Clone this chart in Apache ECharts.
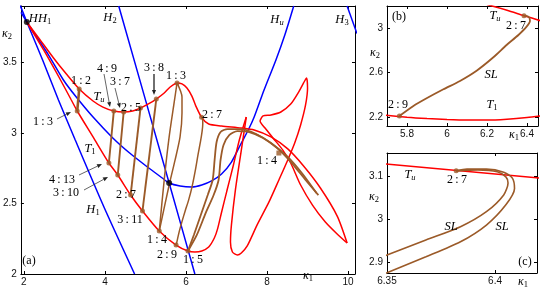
<!DOCTYPE html>
<html><head><meta charset="utf-8">
<script src="https://cdn.jsdelivr.net/npm/echarts@6/dist/echarts.min.js"></script>
<style>html,body{margin:0;padding:0;background:#fff}#c{width:541px;height:288px}</style>
</head><body><div id="c"></div>
<script>
// ---------- tick labels ----------
const xTicksA = [2, 4, 6, 8, 10];
const yTicksA = [2, 2.5, 3, 3.5];
const xTicksB = [5.8, 6, 6.2, 6.4];
const yTicksB = [2.2, 2.6, 3];
const xTicksC = [6.35, 6.4];
const yTicksC = [2.9, 3, 3.1];

// ---------- panel (a): Hopf curves ----------
const H1 = [[1.91,3.905],[2.073,3.787],[2.463,3.518],[2.854,3.234],[3.268,2.950],[3.976,2.475],[4.732,2.0]];
const Hu = [[1.93,3.855],[2.073,3.787],[2.610,3.553],[2.976,3.376],[3.293,3.255],[3.707,3.113],[4.195,2.965],[4.610,2.858],[5.049,2.759],[5.415,2.681],[5.585,2.645],[5.854,2.624],[6.146,2.617],[6.390,2.631],[6.634,2.660],[6.878,2.709],[7.122,2.794],[7.341,2.915],[7.537,3.021],[7.683,3.113],[7.927,3.305],[8.220,3.518],[8.439,3.695],[8.659,3.901]];
const H2 = [[4.341,3.901],[5.585,2.645],[6.220,2.0]];
const H3 = [[9.976,3.901],[10.22,3.705]];

// ---------- panel (a): torus curves ----------
const Tu = [[2.073,3.787],[2.366,3.674],[2.732,3.532],[3.049,3.418],[3.366,3.312],[3.707,3.227],[3.951,3.184],[4.220,3.156],[4.463,3.149],[4.683,3.156],[4.878,3.177],[5.073,3.206],[5.268,3.241],[5.463,3.284],[5.610,3.326],[5.780,3.355],[5.902,3.348],[6.024,3.319],[6.146,3.262],[6.244,3.191],[6.385,3.111],[6.561,3.064],[6.878,3.050],[7.366,3.035],[7.683,3.021],[8.098,2.972],[8.512,2.887],[8.902,2.766],[9.317,2.610],[9.732,2.411],[9.976,2.220]];
const Tloop = [[9.976,2.220],[9.756,2.277],[9.439,2.369],[9.122,2.489],[8.829,2.631],[8.585,2.787],[8.390,2.879],[8.146,2.965],[7.951,3.035],[7.829,3.085],[7.902,3.121],[8.098,3.128],[8.341,3.149],[8.585,3.205],[8.780,3.290],[8.902,3.355],[8.976,3.390],[9.000,3.319],[8.951,3.199],[8.829,3.057],[8.683,2.929],[8.512,2.809],[8.293,2.667],[8.049,2.511],[7.756,2.348],[7.512,2.199],[7.366,2.149],[7.268,2.135],[7.146,2.156],[7.098,2.227],[7.122,2.348],[7.220,2.596],[7.366,2.879],[7.488,3.113]];
const T1 = [[2.073,3.787],[2.488,3.589],[2.878,3.390],[3.171,3.234],[3.317,3.156],[3.707,2.972],[4.098,2.787],[4.317,2.702],[4.634,2.560],[4.927,2.447],[5.341,2.305],[5.756,2.205],[6.049,2.163],[6.220,2.156],[6.390,2.163],[6.561,2.191],[6.700,2.255],[6.780,2.320],[6.880,2.440],[7.010,2.590],[7.171,2.773],[7.317,2.950],[7.488,3.113]];

// ---------- panel (a): tongue boundaries ----------
const L12 = [[3.366,3.312],[3.317,3.156]];
const L49 = [[4.220,3.156],[4.098,2.787]];
const L37 = [[4.463,3.149],[4.317,2.702]];
const L25 = [[4.878,3.177],[4.634,2.560]];
const L38 = [[5.268,3.241],[4.927,2.447]];
const L13a = [[5.780,3.355],[5.707,3.213],[5.585,2.972],[5.463,2.667],[5.341,2.305]];
const L13b = [[5.780,3.355],[5.902,3.255],[5.902,3.142],[5.854,2.972],[5.732,2.809],[5.585,2.631],[5.341,2.305]];
const SL29 = [[5.762,2.209],[5.832,2.299],[5.898,2.368],[5.982,2.449],[6.065,2.524],[6.148,2.616],[6.232,2.737],[6.298,2.847],[6.357,2.937],[6.398,3.012],[6.415,3.066],[6.407,3.102],[6.385,3.111]];
const L15a = [[6.049,2.163],[6.195,2.277],[6.366,2.418],[6.537,2.560],[6.659,2.667],[6.707,2.809],[6.756,2.936],[6.854,3.007],[7.024,3.028],[7.366,3.028],[7.732,2.993],[8.098,2.929],[8.512,2.830],[8.878,2.709],[9.220,2.574]];
const L15b = [[6.049,2.163],[6.268,2.277],[6.488,2.433],[6.683,2.560],[6.805,2.667],[6.854,2.809],[6.927,2.915],[7.073,2.986],[7.268,3.014],[7.561,3.007],[7.902,2.965],[8.244,2.894],[8.610,2.787],[8.951,2.667],[9.268,2.560]];

// ---------- panel (a): special points ----------
const dotsTu = [[3.366,3.312],[4.220,3.156],[4.463,3.149],[4.878,3.177],[5.268,3.241],[5.780,3.355],[6.385,3.111]];
const dotsT1 = [[3.317,3.156],[4.098,2.787],[4.317,2.702],[4.634,2.560],[4.927,2.447],[5.341,2.305],[5.756,2.205],[6.049,2.163]];
const dot14 = [[8.293,2.858]];
const dotsHH = [[2.073,3.787],[5.585,2.645]];

// ---------- panel (b) ----------
const bT1 = [[5.68,2.218],[5.8,2.198],[5.9,2.186],[6.0,2.177],[6.1,2.172],[6.2,2.172],[6.3,2.18],[6.4,2.195],[6.47,2.21]];
const bTu = [[6.20,3.212],[6.30,3.16],[6.385,3.111],[6.47,3.064]];
const bSL = SL29;
const bDots = [[5.762,2.209],[6.385,3.111]];

// ---------- panel (c) ----------
const cTu = [[6.345,3.130],[6.425,3.093]];
const cSL1 = [[6.347,2.910],[6.350,2.916],[6.368,2.951],[6.384,2.982],[6.396,3.017],[6.404,3.056],[6.406,3.084],[6.405,3.098],[6.401,3.110],[6.392,3.114],[6.382,3.112]];
const cSL2 = [[6.348,2.871],[6.350,2.875],[6.368,2.912],[6.384,2.947],[6.396,2.986],[6.405,3.033],[6.409,3.071],[6.408,3.095],[6.404,3.109],[6.396,3.116],[6.387,3.116],[6.382,3.112]];
const cDot = [[6.382,3.112]];

// ---------- styling ----------
const RED = '#ff0000', BLUE = '#0000ff', BROWN = '#9b5a28';
const SANS = '"Liberation Sans", Arial, sans-serif';
const SERIF = '"Liberation Serif", "DejaVu Serif", serif';

const grids = [
  {left: 17, top: 6, width: 338, height: 268},
  {left: 387, top: 6, width: 151, height: 120},
  {left: 387, top: 153, width: 150, height: 120}
];
const ranges = [
  {x: [1.927, 10.171], y: [2.0, 3.9007], xt: xTicksA, yt: yTicksA},
  {x: [5.70, 6.455], y: [2.119, 3.198], xt: xTicksB, yt: yTicksB},
  {x: [6.35, 6.4194], y: [2.8744, 3.1535], xt: xTicksC, yt: yTicksC}
];
function ax(gi, mm, ticks, pos, label, isY) {
  return {
    type: 'value', gridIndex: gi, min: mm[0], max: mm[1], position: pos,
    axisLine: {show: true, onZero: false, lineStyle: {color: '#000', width: 1}},
    axisTick: {show: true, inside: true, length: 3, customValues: ticks, lineStyle: {color: '#000', width: 1}},
    axisLabel: {show: label, customValues: ticks, margin: isY ? 4 : 3, fontSize: 10, color: '#111', fontFamily: SANS},
    splitLine: {show: false}
  };
}
const xAxis = [], yAxis = [];
ranges.forEach((r, i) => {
  xAxis.push(ax(i, r.x, r.xt, 'bottom', true, false));
  xAxis.push(ax(i, r.x, r.xt, 'top', false, false));
  yAxis.push(ax(i, r.y, r.yt, 'left', true, true));
  yAxis.push(ax(i, r.y, r.yt, 'right', false, true));
});

const series = [];
function line(data, color, width, p, z) {
  series.push({type: 'line', data, xAxisIndex: 2 * p, yAxisIndex: 2 * p, showSymbol: false, symbol: 'none',
    smooth: 0.25, lineStyle: {color, width}, z: z || 2, silent: true, animation: false});
}
function dots(data, color, size, p, sym) {
  series.push({type: 'scatter', data, xAxisIndex: 2 * p, yAxisIndex: 2 * p, symbol: sym || 'circle',
    symbolSize: size, itemStyle: {color}, z: 5, silent: true, animation: false});
}
// panel a
[H1, Hu, H2, H3].forEach(d => line(d, BLUE, 1.5, 0, 2));
[Tu, Tloop, T1].forEach(d => line(d, RED, 1.5, 0, 3));
line(L12, BROWN, 2.6, 0, 4);
[L49, L37, L25, L38].forEach(d => line(d, BROWN, 1.9, 0, 4));
[L13a, L13b, SL29].forEach(d => line(d, BROWN, 1.5, 0, 4));
[L15a, L15b].forEach(d => line(d, BROWN, 1.8, 0, 4));
dots(dotsTu, BROWN, 5, 0);
dots(dotsT1, BROWN, 5, 0);
dots(dot14, BROWN, 5, 0, 'rect');
dots(dotsHH, '#000', 6, 0);
// panel b
line(bT1, RED, 1.5, 1, 3);
line(bTu, RED, 1.5, 1, 3);
line(bSL, BROWN, 1.8, 1, 4);
dots(bDots, BROWN, 5, 1);
// panel c
line(cTu, RED, 1.5, 2, 3);
line(cSL1, BROWN, 1.6, 2, 4);
line(cSL2, BROWN, 1.6, 2, 4);
dots(cDot, BROWN, 5, 2);

// ---------- annotations ----------
const rich = {
  n: {fontFamily: SERIF, fontSize: 12, color: '#3a3a3a', lineHeight: 14},
  i: {fontFamily: SERIF, fontStyle: 'italic', fontSize: 12.5, color: '#222', lineHeight: 14},
  s: {fontFamily: SERIF, fontSize: 8.5, color: '#222', lineHeight: 9, verticalAlign: 'bottom'},
  si: {fontFamily: SERIF, fontStyle: 'italic', fontSize: 8.5, color: '#222', lineHeight: 9, verticalAlign: 'bottom'},
  k: {fontFamily: SERIF, fontStyle: 'italic', fontSize: 12, color: '#444', lineHeight: 14},
  ks: {fontFamily: SERIF, fontSize: 8.5, color: '#444', lineHeight: 9, verticalAlign: 'bottom'}
};
const R = t => '{n|' + t.replace(':', '\u2009:\u2009') + '}';
const labels = [
  [40, 19, '{i|HH}{s|1}'], [110, 18, '{i|H}{s|2}'], [277, 20, '{i|H}{si|u}'], [342, 20, '{i|H}{s|3}'],
  [81, 81, R('1:2')], [43, 122, R('1:3')], [99, 97, '{i|T}{si|u}'], [107, 69, R('4:9')], [120, 82, R('3:7')],
  [131, 108, R('2:5')], [154, 68, R('3:8')], [176, 76, R('1:3')], [212, 115, R('2:7')],
  [90, 149, '{i|T}{s|1}'], [62, 180, R('4:13')], [66, 193, R('3:10')], [93, 210, '{i|H}{s|1}'],
  [126, 195, R('2:7')], [130, 220, R('3:11')], [157, 240, R('1:4')], [167, 255, R('2:9')], [193, 260, R('1:5')],
  [267, 161, R('1:4')], [29, 261, R('(a)')], [308, 276, '{k|κ}{ks|1}'], [7, 34, '{k|κ}{ks|2}'],
  // panel b
  [399, 17, R('(b)')], [495, 16, '{i|T}{si|u}'], [516, 26, R('2:7')], [491, 75, '{i|SL}'], [398, 105, R('2:9')],
  [492, 105, '{i|T}{s|1}'], [514, 135, '{k|κ}{ks|1}'], [375, 53, '{k|κ}{ks|2}'],
  // panel c
  [410, 175, '{i|T}{si|u}'], [457, 180, R('2:7')], [451, 227, '{i|SL}'], [502, 227, '{i|SL}'],
  [525, 262, R('(c)')], [523, 282, '{k|κ}{ks|1}'], [374, 197, '{k|κ}{ks|2}']
];
const graphic = labels.map(l => ({
  type: 'text', x: l[0], y: l[1], z: 100, silent: true,
  style: {text: l[2], rich, align: 'center', verticalAlign: 'middle'}
}));
function arrow(x1, y1, x2, y2, w) {
  const dx = x2 - x1, dy = y2 - y1, L = Math.hypot(dx, dy), ux = dx / L, uy = dy / L;
  const hl = 5, hw = 2;
  const bx = x2 - ux * hl, by = y2 - uy * hl;
  graphic.push({type: 'line', z: 100, silent: true, shape: {x1, y1, x2: bx, y2: by}, style: {stroke: '#222', lineWidth: w || 0.7}});
  graphic.push({type: 'polygon', z: 100, silent: true, shape: {points: [[x2, y2], [bx - uy * hw, by + ux * hw], [bx + uy * hw, by - ux * hw]]}, style: {fill: '#222'}});
}
arrow(57, 119, 71, 112);
arrow(104, 74, 110, 107);
arrow(115, 88, 120, 108);
arrow(154, 74, 154, 95, 1.3);
arrow(79, 175, 102, 164);
arrow(84, 190, 108, 177);

const chart = echarts.init(document.getElementById('c'), null, {renderer: 'canvas'});
chart.setOption({animation: false, backgroundColor: '#fff', grid: grids, xAxis, yAxis, series, graphic});
</script></body></html>
